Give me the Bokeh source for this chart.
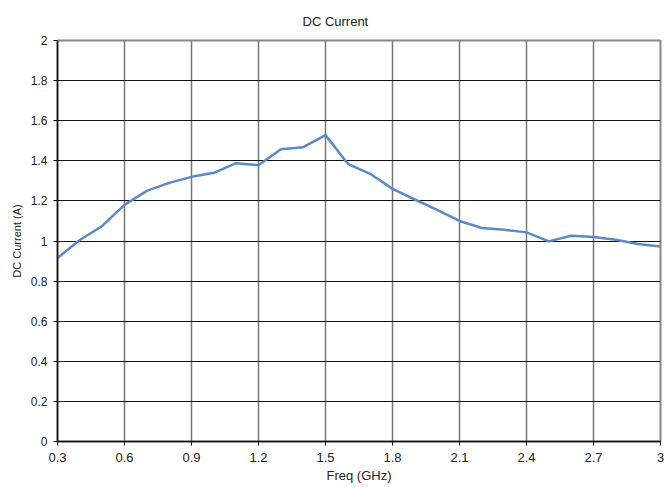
from bokeh.plotting import figure
from bokeh.models import Range1d, FixedTicker
from bokeh.embed import file_html
from bokeh.resources import INLINE

freq = [0.3, 0.4, 0.5, 0.6, 0.7, 0.8, 0.9, 1.0, 1.1, 1.2, 1.3, 1.4, 1.5, 1.6,
        1.7, 1.8, 1.9, 2.0, 2.1, 2.2, 2.3, 2.4, 2.5, 2.6, 2.7, 2.8, 2.9, 3.0]
current = [0.915, 1.005, 1.075, 1.18, 1.25, 1.29, 1.32, 1.34, 1.388, 1.378, 1.458, 1.468, 1.528, 1.385,
           1.335, 1.26, 1.207, 1.155, 1.10, 1.065, 1.056, 1.043, 0.998, 1.026, 1.02, 1.006, 0.985, 0.972]
x_ticks = [0.3, 0.6, 0.9, 1.2, 1.5, 1.8, 2.1, 2.4, 2.7, 3.0]
y_ticks = [0, 0.2, 0.4, 0.6, 0.8, 1.0, 1.2, 1.4, 1.6, 1.8, 2.0]
x_labels = {0.3: "0.3", 0.6: "0.6", 0.9: "0.9", 1.2: "1.2", 1.5: "1.5", 1.8: "1.8",
            2.1: "2.1", 2.4: "2.4", 2.7: "2.7", 3.0: "3"}
y_labels = {0: "0", 0.2: "0.2", 0.4: "0.4", 0.6: "0.6", 0.8: "0.8", 1.0: "1",
            1.2: "1.2", 1.4: "1.4", 1.6: "1.6", 1.8: "1.8", 2.0: "2"}

FONT = "Liberation Sans"

p = figure(width=664, height=487, output_backend="svg", toolbar_location=None,
           x_range=Range1d(0.3, 3.0), y_range=Range1d(0, 2.0),
           title="DC Current", min_border_left=57, min_border_right=4,
           min_border_top=40, min_border_bottom=46)

p.title.align = "left"
p.title.offset = 245
p.title.text_font = FONT
p.title.text_font_size = "13px"
p.title.text_font_style = "normal"
p.title.text_color = "#222222"
p.title.standoff = 23

p.outline_line_color = "#888888"
p.outline_line_width = 2

p.xaxis.ticker = FixedTicker(ticks=x_ticks)
p.yaxis.ticker = FixedTicker(ticks=y_ticks)
p.xaxis.major_label_overrides = x_labels
p.yaxis.major_label_overrides = y_labels
p.xaxis.axis_label = "Freq (GHz)"
p.yaxis.axis_label = "DC Current (A)"
for ax in (p.xaxis, p.yaxis):
    ax.axis_label_text_font = FONT
    ax.axis_label_text_font_style = "normal"
    ax.axis_label_text_color = "#222222"
    ax.major_label_text_font = FONT
    ax.major_label_text_color = "#222222"
    ax.axis_line_color = "#111111"
    ax.axis_line_width = 1.5
    ax.major_tick_line_color = "#111111"
    ax.major_tick_in = 0
    ax.major_tick_out = 4
    ax.minor_tick_line_color = None
p.xaxis.axis_label_text_font_size = "13px"
p.xaxis.major_label_text_font_size = "13px"
p.yaxis.axis_label_text_font_size = "11px"
p.yaxis.major_label_text_font_size = "12px"
p.xaxis.axis_label_standoff = 3
p.yaxis.axis_label_standoff = 5
p.xaxis.major_label_standoff = 7
p.yaxis.major_label_standoff = 6

p.xgrid.grid_line_color = "#777777"
p.xgrid.grid_line_width = 1.5
p.ygrid.grid_line_color = "#111111"
p.ygrid.grid_line_width = 1.2

p.line(freq, current, line_color="#5b8ac6", line_width=2.5)

open("out.html", "w").write(file_html(p, INLINE))
